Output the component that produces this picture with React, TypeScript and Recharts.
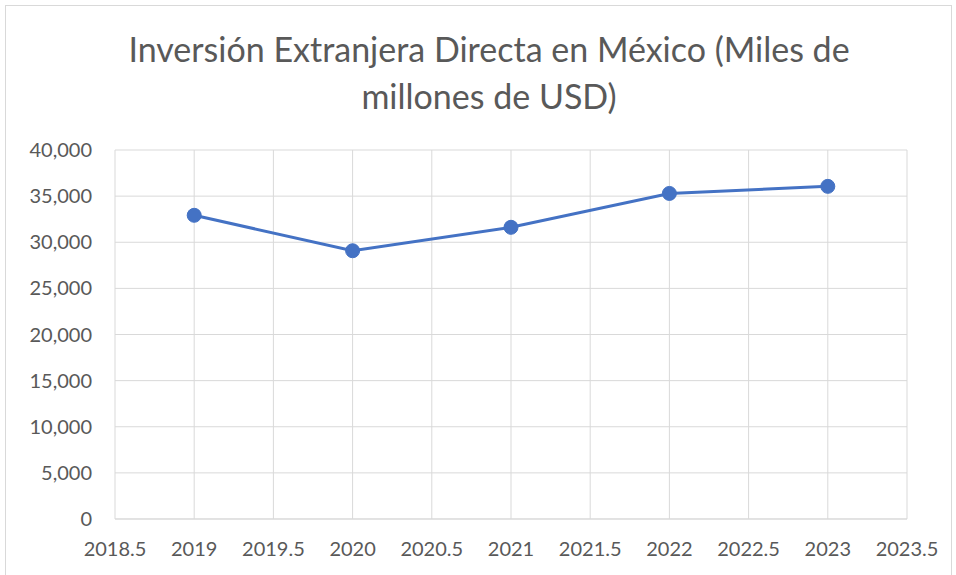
import React from 'react';
import { LineChart, Line, XAxis, YAxis, CartesianGrid } from 'recharts';

const years = [2019, 2020, 2021, 2022, 2023];
const fdiValues = [32921, 29079, 31621, 35292, 36058];
const xTicks = [2018.5, 2019, 2019.5, 2020, 2020.5, 2021, 2021.5, 2022, 2022.5, 2023, 2023.5];
const yTicks = [0, 5000, 10000, 15000, 20000, 25000, 30000, 35000, 40000];

const data = years.map((y, i) => ({ year: y, value: fdiValues[i] }));

const FONT = 'Lato, "Open Sans", sans-serif';
const TEXT = '#595959';
const GRID = '#d9d9d9';

export default function App() {
  return (
    <div style={{ position: 'absolute', left: 0, top: 0, width: 956, height: 575, background: '#fff', overflow: 'hidden', fontFamily: FONT }}>
      {/* chart frame */}
      <div style={{ position: 'absolute', left: 5, top: 5, width: 945, height: 600, border: `1px solid ${GRID}` }} />

      <div style={{ position: 'absolute', left: 0, top: 25, width: 978, textAlign: 'center', fontSize: 34, lineHeight: '47px', color: TEXT }}>
        Inversión Extranjera Directa en México (Miles de<br />millones de USD)
      </div>

      <LineChart
        width={956}
        height={575}
        data={data}
        margin={{ top: 150, right: 49, bottom: 0, left: 0 }}
        style={{ position: 'absolute', left: 0, top: 0 }}
      >
        <CartesianGrid stroke={GRID} strokeWidth={1} />
        <XAxis
          dataKey="year"
          type="number"
          domain={[2018.5, 2023.5]}
          ticks={xTicks}
          interval={0}
          height={56}
          axisLine={{ stroke: GRID }}
          tickLine={false}
          tick={{ fill: TEXT, fontSize: 20, fontFamily: FONT }}
          tickMargin={17}
        />
        <YAxis
          domain={[0, 40000]}
          ticks={yTicks}
          width={115}
          axisLine={false}
          tickLine={false}
          tick={{ fill: TEXT, fontSize: 20, fontFamily: FONT }}
          tickMargin={17}
          tickFormatter={(v: number) => v.toLocaleString('en-US')}
        />
        <Line
          dataKey="value"
          stroke="#4472c4"
          strokeWidth={3}
          dot={{ r: 7, fill: '#4472c4', stroke: '#4472c4', strokeWidth: 1 }}
          isAnimationActive={false}
        />
      </LineChart>
    </div>
  );
}
